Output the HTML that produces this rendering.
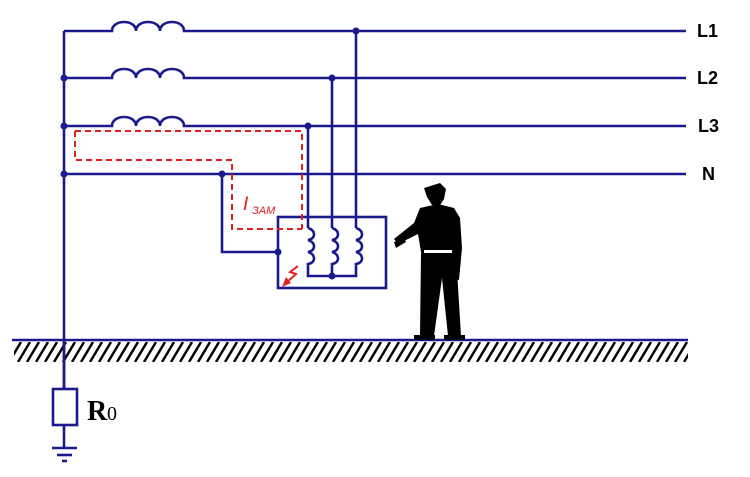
<!DOCTYPE html>
<html><head><style>body{margin:0;background:#fff}svg{display:block}</style></head><body>
<svg width="750" height="477" viewBox="0 0 750 477" xmlns="http://www.w3.org/2000/svg">
<defs>
<pattern id="h" x="0" y="342" width="9" height="20" patternUnits="userSpaceOnUse"><line x1="12" y1="0" x2="0" y2="20" stroke="#000" stroke-width="2.5"/><line x1="3" y1="0" x2="-9" y2="20" stroke="#000" stroke-width="2.5"/><line x1="21" y1="0" x2="9" y2="20" stroke="#000" stroke-width="2.5"/></pattern>
</defs>
<g stroke="#1a1a8c" stroke-width="2.6" fill="none">
<line x1="64" y1="31" x2="64" y2="390"/>
<path d="M64 31 H112 c0-12 24-12 24 0 c0-12 24-12 24 0 c0-12 24-12 24 0 H686"/>
<path d="M64 78 H112 c0-12 24-12 24 0 c0-12 24-12 24 0 c0-12 24-12 24 0 H686"/>
<path d="M64 126 H112 c0-12 24-12 24 0 c0-12 24-12 24 0 c0-12 24-12 24 0 H686"/>
<line x1="64" y1="174" x2="686" y2="174"/>
<line x1="356" y1="31" x2="356" y2="228"/>
<line x1="332" y1="78" x2="332" y2="228"/>
<line x1="308" y1="126" x2="308" y2="228"/>
<path d="M222 174 V252 H278"/>
<rect x="278" y="217" width="108" height="71"/>
<path d="M308 228 c8 2 8 11 0 12 c8 2 8 11 0 12 c8 2 8 11 0 12 V276 H356 V264 c8-1 8-10 0-12 c8-1 8-10 0-12 c8-1 8-10 0-12"/>
<path d="M332 228 c8 2 8 11 0 12 c8 2 8 11 0 12 c8 2 8 11 0 12 V276"/>
<line x1="12" y1="340" x2="688" y2="340"/>
<rect x="53" y="389" width="24" height="36"/>
<line x1="64" y1="425" x2="64" y2="448"/>
<line x1="52" y1="448" x2="77" y2="448"/>
<line x1="57" y1="455" x2="72" y2="455"/>
<line x1="62" y1="461" x2="67" y2="461"/>
</g>
<rect x="14" y="342" width="674" height="20" fill="url(#h)"/>
<line x1="64" y1="340" x2="64" y2="390" stroke="#1a1a8c" stroke-width="2.6"/>
<g fill="#1a1a8c">
<circle cx="356" cy="31" r="3.5"/><circle cx="332" cy="78" r="3.5"/><circle cx="308" cy="126" r="3.5"/>
<circle cx="64" cy="78" r="3.5"/><circle cx="64" cy="126" r="3.5"/><circle cx="64" cy="174" r="3.5"/>
<circle cx="222" cy="174" r="3.5"/><circle cx="278" cy="252" r="3.5"/><circle cx="332" cy="276" r="3.5"/>
</g>
<g stroke="#e02020" stroke-width="2" stroke-dasharray="6,4" fill="none">
<path d="M75 131 H302 V229"/>
<path d="M75 131 V160 H232 V229 H302"/>
</g>
<path d="M298 266 l-8 6 l6 2 l-10 9" stroke="#e02020" stroke-width="2" fill="none"/>
<polygon points="282,287 286,277 291,283" fill="#e02020"/>
<text x="243" y="210" font-family="Liberation Sans, sans-serif" font-style="italic" font-size="19" fill="#e02020">I</text>
<text x="252" y="214" font-family="Liberation Sans, sans-serif" font-style="italic" font-size="11" fill="#e02020">ЗАМ</text>
<g fill="#000">
<path d="M424 188 l16-5 l6 6 l-2 10 l-4 6 l-8 0 l-5-8 z"/>
<path d="M420 208 l18-4 l16 4 l6 10 l2 30 l-3 32 l-9 -2 l0 -20 l-28 0 l-4 -24 l-20 10 l-4 -5 l20 -16 z"/>
<path d="M421 254 h35 l5 82 h-13 l-6 -58 l-8 58 h-14 z"/>
<path d="M414 335 h21 v5 h-21z M444 335 h21 v5 h-21z"/>
<path d="M394 242 l10-4 l2 4 l-10 6z"/>
</g>
<rect x="424" y="250" width="28" height="3" fill="#fff"/>
<g font-family="Liberation Sans, sans-serif" font-weight="bold" font-size="18" fill="#000">
<text x="697" y="37">L1</text><text x="697" y="84">L2</text><text x="698" y="132">L3</text><text x="702" y="180">N</text>
</g>
<text x="87" y="420" font-family="Liberation Serif, serif" font-weight="bold" font-size="28" fill="#000">R</text>
<text x="107" y="420" font-family="Liberation Serif, serif" font-size="20" fill="#000">0</text>
</svg>
</body></html>
